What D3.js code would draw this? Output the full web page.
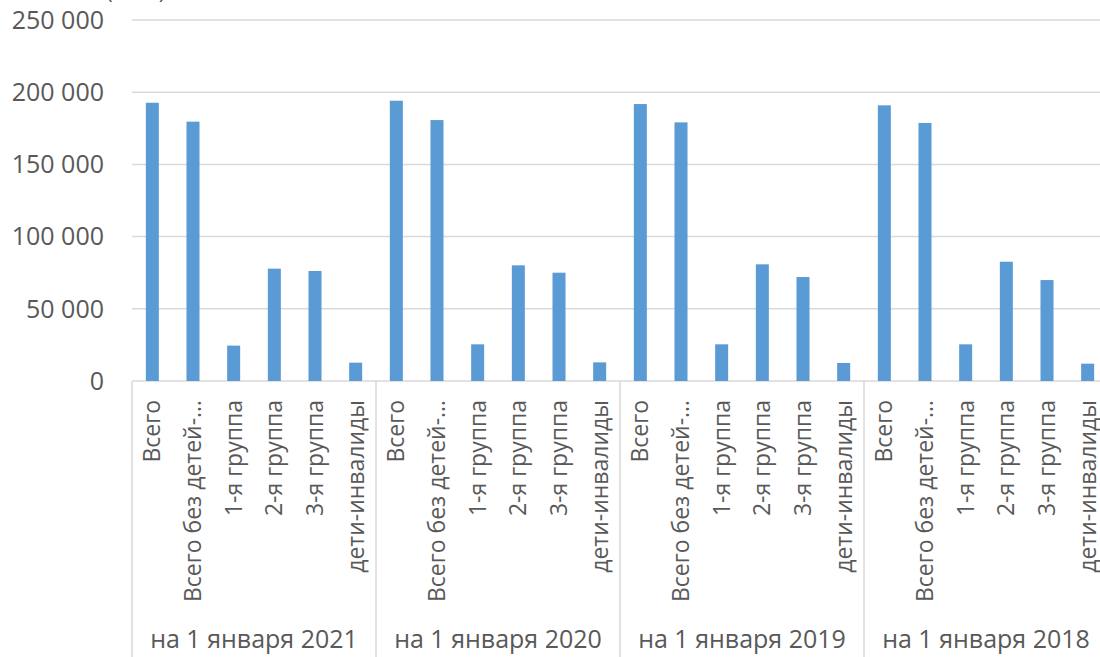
<!DOCTYPE html>
<html>
<head>
<meta charset="utf-8">
<script src="https://cdn.jsdelivr.net/npm/d3@7"></script>
<style>
    body { margin: 0; background: #fff; }
    svg text { font-family: "Open Sans", sans-serif; fill: #595959; }
</style>
</head>
<body>
<svg></svg>
<script>
var groups = ["на 1 января 2021", "на 1 января 2020", "на 1 января 2019", "на 1 января 2018"];
var categories = ["Всего", "Всего без детей-…", "1-я группа", "2-я группа", "3-я группа", "дети-инвалиды"];

var values2021 = [192700, 179600, 24500, 77800, 76200, 12700];
var values2020 = [194100, 180700, 25400, 80100, 75000, 12900];
var values2019 = [191800, 179100, 25400, 80800, 72000, 12500];
var values2018 = [190900, 178700, 25400, 82600, 69900, 12000];

var yTicks = [0, 50000, 100000, 150000, 200000, 250000];

var seriesByGroup = [values2021, values2020, values2019, values2018];

var width = 1100, height = 657;
var plotLeft = 132, plotRight = 1108, plotTop = 20, plotBottom = 381;

var svg = d3.select("svg")
    .attr("width", width)
    .attr("height", height);

// cut-off unit caption at the very top
svg.append("text")
    .attr("x", 106)
    .attr("y", -2)
    .style("font-size", "23px")
    .text("(чел.)");

var x0 = d3.scaleBand().domain(groups).range([plotLeft, plotRight]);
var x1 = d3.scaleBand().domain(categories).range([0, x0.bandwidth()])
    .paddingInner(0.68).paddingOuter(0.34);
var y = d3.scaleLinear().domain([0, 250000]).range([plotBottom, plotTop]);

// gridlines
svg.append("g")
    .selectAll("line")
    .data(yTicks)
    .enter()
    .append("line")
    .attr("x1", plotLeft)
    .attr("x2", plotRight)
    .attr("y1", d => y(d))
    .attr("y2", d => y(d))
    .attr("stroke", "#d9d9d9")
    .attr("stroke-width", 1.5);

// y tick labels
var fmt = d3.formatLocale({ decimal: ",", thousands: " ", grouping: [3], currency: ["", ""] }).format(",d");
svg.append("g")
    .selectAll("text")
    .data(yTicks)
    .enter()
    .append("text")
    .attr("x", 104)
    .attr("y", d => y(d))
    .attr("dy", "0.35em")
    .attr("text-anchor", "end")
    .style("font-size", "25px")
    .text(d => fmt(d));

// bars
var data = [];
groups.forEach(function(g, i) {
    categories.forEach(function(c, j) {
        data.push({ group: g, cat: c, value: seriesByGroup[i][j] });
    });
});

svg.append("g")
    .selectAll("rect")
    .data(data)
    .enter()
    .append("rect")
    .attr("x", d => x0(d.group) + x1(d.cat))
    .attr("y", d => y(d.value))
    .attr("width", x1.bandwidth())
    .attr("height", d => plotBottom - y(d.value))
    .attr("fill", "#5b9bd5");

// group separators (multi-level category axis)
var seps = groups.map(g => x0(g)).concat([plotRight]);
svg.append("g")
    .selectAll("line")
    .data(seps)
    .enter()
    .append("line")
    .attr("x1", d => d)
    .attr("x2", d => d)
    .attr("y1", plotBottom)
    .attr("y2", height)
    .attr("stroke", "#d9d9d9")
    .attr("stroke-width", 1.5);

// category labels, rotated
svg.append("g")
    .selectAll("text")
    .data(data)
    .enter()
    .append("text")
    .attr("transform", d => "translate(" + (x0(d.group) + x1(d.cat) + x1.bandwidth() / 2) + "," + 400 + ") rotate(-90)")
    .attr("dy", "0.35em")
    .attr("text-anchor", "end")
    .style("font-size", "23px")
    .text(d => d.cat);

// group labels
svg.append("g")
    .selectAll("text")
    .data(groups)
    .enter()
    .append("text")
    .attr("x", d => x0(d) + x0.bandwidth() / 2)
    .attr("y", 648)
    .attr("text-anchor", "middle")
    .style("font-size", "25px")
    .text(d => d);
</script>
</body>
</html>
